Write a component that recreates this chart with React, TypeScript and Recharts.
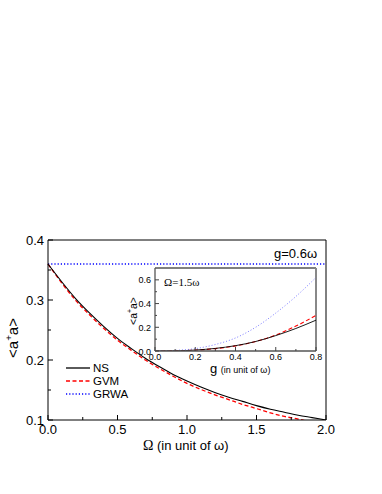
import React from 'react';
import { LineChart, Line, XAxis, YAxis, ReferenceLine, Legend } from 'recharts';

// main panel: g = 0.6 omega, x = Omega
const omega = [0, 0.1, 0.2, 0.3, 0.4, 0.5, 0.6, 0.7, 0.8, 0.9, 1.0, 1.1, 1.2, 1.3, 1.4, 1.5, 1.6, 1.7, 1.8, 1.9, 2.0];
const nsMain = [0.36, 0.33, 0.302, 0.278, 0.256, 0.236, 0.219, 0.203, 0.189, 0.176, 0.165, 0.155, 0.146, 0.138, 0.131, 0.124, 0.118, 0.113, 0.108, 0.104, 0.1];
const gvmMain = [0.36, 0.328, 0.299, 0.275, 0.253, 0.233, 0.216, 0.2, 0.186, 0.173, 0.161, 0.151, 0.142, 0.134, 0.126, 0.119, 0.112, 0.106, 0.1015, 0.096, 0.091];
const grwaMain = [0.36, 0.36, 0.36, 0.36, 0.36, 0.36, 0.36, 0.36, 0.36, 0.36, 0.36, 0.36, 0.36, 0.36, 0.36, 0.36, 0.36, 0.36, 0.36, 0.36, 0.36];

// inset: Omega = 1.5 omega, x = g
const gVals = [0, 0.1, 0.2, 0.3, 0.4, 0.5, 0.6, 0.7, 0.8];
const nsInset = [0, 0.001, 0.008, 0.022, 0.045, 0.08, 0.13, 0.19, 0.26];
const gvmInset = [0, 0.001, 0.007, 0.02, 0.043, 0.08, 0.135, 0.21, 0.3];
const grwaInset = [0, 0.005, 0.02, 0.055, 0.11, 0.2, 0.32, 0.46, 0.62];

const mainXTicks = [0, 0.25, 0.5, 0.75, 1, 1.25, 1.5, 1.75, 2];
const mainYTicks = [0.1, 0.15, 0.2, 0.25, 0.3, 0.35, 0.4];
const insetXTicks = [0, 0.1, 0.2, 0.3, 0.4, 0.5, 0.6, 0.7, 0.8];
const insetYTicks = [0, 0.1, 0.2, 0.3, 0.4, 0.5, 0.6];

const mainData = omega.map((o, i) => ({ omega: o, ns: nsMain[i], gvm: gvmMain[i], grwa: grwaMain[i] }));
const insetData = gVals.map((g, i) => ({ g, ns: nsInset[i], gvm: gvmInset[i], grwa: grwaInset[i] }));

const sans = '"Liberation Sans", Arial, sans-serif';
const serif = '"Liberation Serif", "Times New Roman", serif';

const series = [
  { key: 'ns', name: 'NS', color: '#000', dash: undefined as string | undefined },
  { key: 'gvm', name: 'GVM', color: '#ff0000', dash: '4 2.5' },
  { key: 'grwa', name: 'GRWA', color: '#0000ff', dash: '1.2 2' },
];

const isMajor = (v: number, step: number) => Math.abs(v / step - Math.round(v / step)) < 1e-6;

const MainXTick = (props: any) => {
  const { x, y, payload } = props;
  const major = isMajor(payload.value, 0.5);
  return (
    <g>
      <line x1={x} x2={x} y1={y} y2={y - (major ? 5 : 3)} stroke="#000" />
      {major && (
        <text x={x} y={y + 14} textAnchor="middle" fontSize={13} fontFamily={sans} fill="#000">
          {payload.value.toFixed(1)}
        </text>
      )}
    </g>
  );
};

const MainYTick = (props: any) => {
  const { x, y, payload } = props;
  const major = isMajor(payload.value, 0.1);
  return (
    <g>
      <line x1={x} x2={x + (major ? 5 : 3)} y1={y} y2={y} stroke="#000" />
      {major && (
        <text x={x - 4} y={y + 5} textAnchor="end" fontSize={13} fontFamily={sans} fill="#000">
          {payload.value.toFixed(1)}
        </text>
      )}
    </g>
  );
};

const InsetXTick = (props: any) => {
  const { x, y, payload } = props;
  const major = isMajor(payload.value, 0.2);
  return (
    <g>
      <line x1={x} x2={x} y1={y} y2={y - (major ? 4 : 2)} stroke="#444" />
      {major && (
        <text x={x} y={y + 9} textAnchor="middle" fontSize={9} fontFamily={sans} fill="#000">
          {payload.value.toFixed(1)}
        </text>
      )}
    </g>
  );
};

const InsetYTick = (props: any) => {
  const { x, y, payload } = props;
  const major = isMajor(payload.value, 0.2);
  return (
    <g>
      <line x1={x} x2={x + (major ? 4 : 2)} y1={y} y2={y} stroke="#444" />
      {major && (
        <text x={x - 4} y={y + 3.5} textAnchor="end" fontSize={9} fontFamily={sans} fill="#000">
          {payload.value.toFixed(1)}
        </text>
      )}
    </g>
  );
};

const MainLegend = () => (
  <div style={{ fontFamily: sans, fontSize: 11.5, color: '#000' }}>
    {series.map((s) => (
      <div key={s.key} style={{ display: 'flex', alignItems: 'center', height: 13 }}>
        <svg width={25} height={8}>
          <line x1={0} x2={24} y1={4} y2={4} stroke={s.color} strokeWidth={1.3} strokeDasharray={s.dash} />
        </svg>
        <span style={{ marginLeft: 2, lineHeight: '12px' }}>{s.name}</span>
      </div>
    ))}
  </div>
);

const abs = (left: number, top: number): React.CSSProperties => ({ position: 'absolute', left, top, whiteSpace: 'nowrap' });

// rotated label centred on (cx, cy)
const RotLabel = ({ cx, cy, size }: { cx: number; cy: number; size: number }) => (
  <div
    style={{
      ...abs(cx, cy),
      fontFamily: sans,
      fontSize: size,
      lineHeight: 1,
      transform: 'translate(-50%, -50%) rotate(-90deg)',
    }}
  >
    &lt;a<span style={{ fontSize: size * 0.65, verticalAlign: 'super', lineHeight: 0 }}>+</span>a&gt;
  </div>
);

export default function App() {
  return (
    <div style={{ position: 'absolute', left: 0, top: 0, width: 382, height: 494, background: '#fff' }}>
      <LineChart width={382} height={494} data={mainData} margin={{ top: 240, right: 56, bottom: 44, left: 8 }}>
        <XAxis
          dataKey="omega"
          type="number"
          domain={[0, 2]}
          ticks={mainXTicks}
          interval={0}
          tickSize={0}
          tickMargin={0}
          height={30}
          tick={<MainXTick />}
          axisLine={{ stroke: '#000' }}
        />
        <YAxis
          type="number"
          domain={[0.1, 0.4]}
          allowDataOverflow
          ticks={mainYTicks}
          interval={0}
          tickSize={0}
          tickMargin={0}
          width={40}
          tick={<MainYTick />}
          axisLine={{ stroke: '#000' }}
        />
        <ReferenceLine y={0.4} stroke="#000" />
        <ReferenceLine x={2} stroke="#000" />
        <Line dataKey="grwa" stroke="#0000ff" strokeWidth={1.3} strokeDasharray="1.2 2" dot={false} isAnimationActive={false} />
        <Line dataKey="gvm" type="monotone" stroke="#ff0000" strokeWidth={1.3} strokeDasharray="4 2.5" dot={false} isAnimationActive={false} />
        <Line dataKey="ns" type="monotone" stroke="#000" strokeWidth={1.1} dot={false} isAnimationActive={false} />
        <Legend
          layout="vertical"
          align="center"
          verticalAlign="middle"
          content={<MainLegend />}
          wrapperStyle={{ position: 'absolute', left: 66, top: 361, width: 'auto' }}
        />
      </LineChart>

      <div style={{ ...abs(110, 258) }}>
        <LineChart width={220} height={120} data={insetData} margin={{ top: 10, right: 14, bottom: 7, left: 17 }}>
          <XAxis
            dataKey="g"
            type="number"
            domain={[0, 0.8]}
            ticks={insetXTicks}
            interval={0}
            tickSize={0}
            tickMargin={0}
            height={20}
            tick={<InsetXTick />}
            axisLine={{ stroke: '#555', strokeWidth: 1.3 }}
          />
          <YAxis
            type="number"
            domain={[0, 0.7]}
            allowDataOverflow
            ticks={insetYTicks}
            interval={0}
            tickSize={0}
            tickMargin={0}
            width={28}
            tick={<InsetYTick />}
            axisLine={{ stroke: '#555', strokeWidth: 1.3 }}
          />
          <ReferenceLine y={0.7} stroke="#555" strokeWidth={1.3} />
          <ReferenceLine x={0.8} stroke="#888" strokeWidth={2} />
          <Line dataKey="grwa" type="monotone" stroke="#7a7aff" strokeWidth={1} strokeDasharray="1 2" dot={false} isAnimationActive={false} />
          <Line dataKey="gvm" type="monotone" stroke="#ff0000" strokeWidth={1.1} strokeDasharray="4 2.5" dot={false} isAnimationActive={false} />
          <Line dataKey="ns" type="monotone" stroke="#000" strokeWidth={0.9} dot={false} isAnimationActive={false} />
        </LineChart>
      </div>

      <div style={{ ...abs(274, 246), fontFamily: sans, fontSize: 13 }}>g=0.6ω</div>
      <div style={{ ...abs(164, 276), fontFamily: serif, fontSize: 11 }}>Ω=1.5ω</div>
      <div style={{ ...abs(210, 362), fontFamily: sans, fontSize: 13, lineHeight: 1 }}>
        g <span style={{ fontSize: 9 }}>(in unit of ω)</span>
      </div>
      <div style={{ ...abs(143, 438), fontFamily: sans, fontSize: 13 }}>
        <span style={{ fontFamily: serif, fontSize: 14 }}>Ω</span> (in unit of ω)
      </div>
      <RotLabel cx={12} cy={338} size={15} />
      <RotLabel cx={133} cy={311} size={10.5} />
    </div>
  );
}
